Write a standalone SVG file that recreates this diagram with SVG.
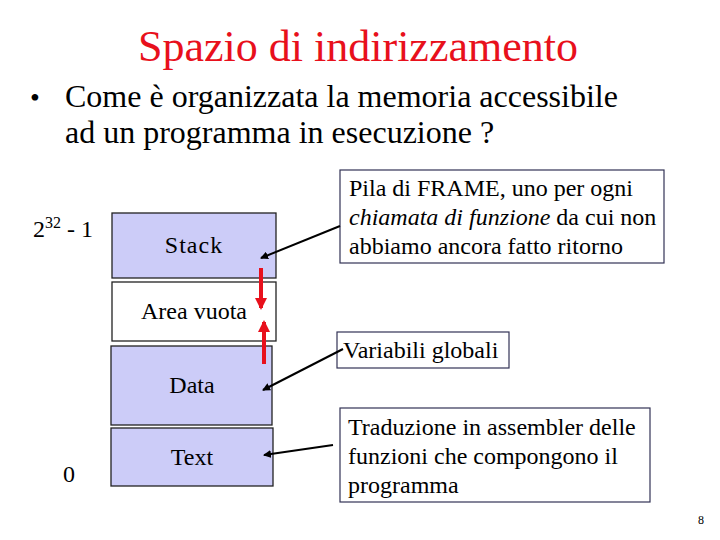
<svg xmlns="http://www.w3.org/2000/svg" width="720" height="540" viewBox="0 0 720 540" font-family="'Liberation Serif', 'Times New Roman', Times, 'DejaVu Serif', serif">
<style>
text{font-family:'Liberation Serif','Times New Roman',Times,'DejaVu Serif',serif;fill:#000}
.seg{stroke:#222;stroke-width:1.3}
.fill{fill:#ccccf8}
.empty{fill:#fff}
.lbl{font-size:24px;text-anchor:middle}
.call{fill:#fff;stroke:#333355;stroke-width:1.2}
.ct{font-size:24px}
.blk{stroke:#000;stroke-width:2;fill:none;marker-end:url(#ah)}
.red{stroke:#e8101c;stroke-width:4;fill:none;marker-end:url(#rh)}
</style>
<defs>
<marker id="ah" markerWidth="8" markerHeight="8" refX="7" refY="4" orient="auto" markerUnits="userSpaceOnUse"><path d="M0,0 L8,4 L0,8 Z" fill="#000"/></marker>
<marker id="rh" markerWidth="12" markerHeight="12" refX="10" refY="6" orient="auto" markerUnits="userSpaceOnUse"><path d="M0,0 L12,6 L0,12 Z" fill="#e8101c"/></marker>
</defs>
<text x="358" y="61" style="font-size:44px;fill:#e8101c;text-anchor:middle">Spazio di indirizzamento</text>
<text x="30" y="107" style="font-size:28px">•</text>
<text x="65" y="107" style="font-size:32px">Come è organizzata la memoria accessibile</text>
<text x="65" y="143" style="font-size:32px">ad un programma in esecuzione ?</text>
<text x="33" y="237" style="font-size:24px">2<tspan dy="-9" style="font-size:16px">32</tspan><tspan dy="9"> - 1</tspan></text>
<text x="63" y="482" style="font-size:24px">0</text>
<text x="698" y="524" style="font-size:12px">8</text>
<g id="stack"><rect class="seg fill" x="112" y="213" width="164" height="65"/><text class="lbl" x="194" y="253" letter-spacing="1">Stack</text></g>
<g id="area"><rect class="seg empty" x="112" y="282" width="164" height="59"/><text class="lbl" x="194" y="319">Area vuota</text></g>
<g id="data"><rect class="seg fill" x="111" y="346" width="161" height="79"/><text class="lbl" x="192" y="393">Data</text></g>
<g id="text"><rect class="seg fill" x="111" y="428" width="162" height="58"/><text class="lbl" x="192" y="465">Text</text></g>
<g id="pila"><rect class="call" x="340" y="170" width="324" height="93"/>
<text class="ct" x="349" y="196">Pila di FRAME, uno per ogni</text>
<text class="ct" x="349" y="225"><tspan font-style="italic">chiamata di funzione</tspan> da cui non</text>
<text class="ct" x="349" y="254">abbiamo ancora fatto ritorno</text></g>
<g id="globali"><rect class="call" x="337" y="332" width="172" height="36"/>
<text class="ct" x="343" y="358">Variabili globali</text></g>
<g id="traduzione"><rect class="call" x="340" y="408" width="310" height="94"/>
<text class="ct" x="348" y="435">Traduzione in assembler delle</text>
<text class="ct" x="348" y="464">funzioni che compongono il</text>
<text class="ct" x="348" y="493">programma</text></g>
<g id="connectors">
<line class="blk" x1="340" y1="226" x2="261" y2="258"/>
<line class="blk" x1="343" y1="349" x2="263" y2="390"/>
<line class="blk" x1="333" y1="445" x2="264" y2="455"/>
<line class="red" x1="261" y1="268" x2="261" y2="308"/>
<line class="red" x1="264" y1="364" x2="264" y2="322"/>
</g>
</svg>
